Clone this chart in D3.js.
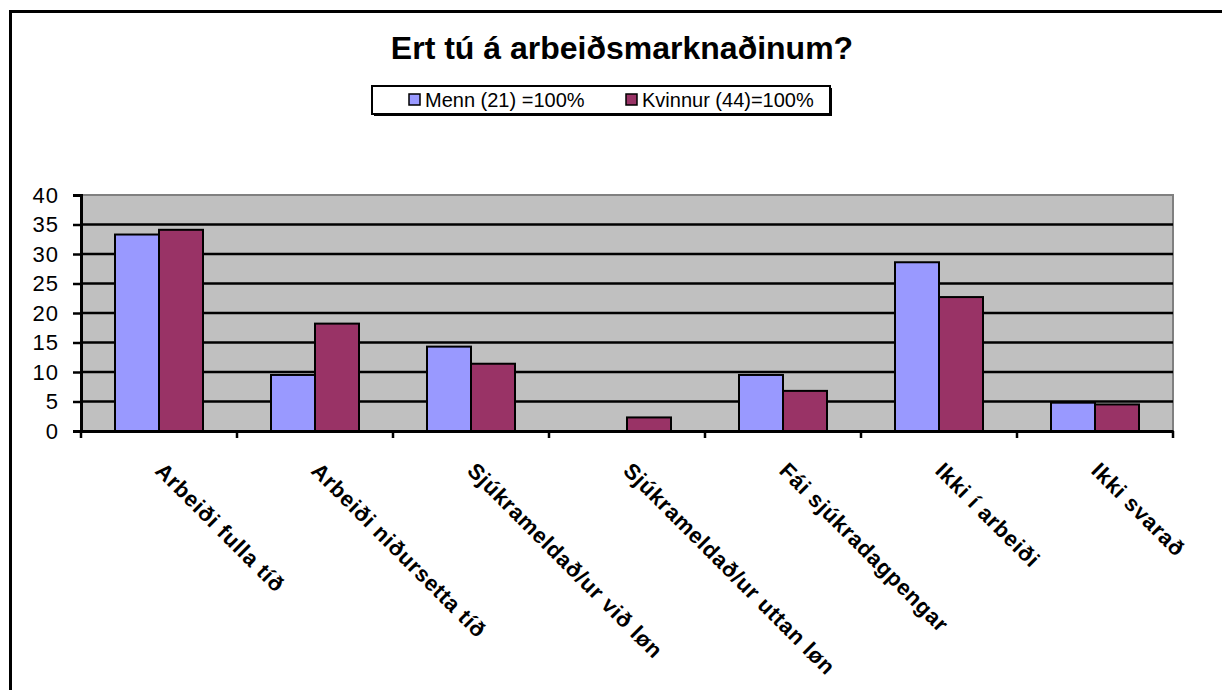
<!DOCTYPE html>
<html>
<head>
<meta charset="utf-8">
<script src="https://cdn.jsdelivr.net/npm/d3@7"></script>
<style>
  body { margin: 0; background: #fff; }
  text { font-family: Arial, "Liberation Sans", sans-serif; }
</style>
</head>
<body>
<svg id="chart" width="1222" height="690"></svg>
<script>
// data (percent of each group)
var categories = ["Arbeiði fulla tíð", "Arbeiði niðursetta tíð", "Sjúkrameldað/ur við løn",
  "Sjúkrameldað/ur uttan løn", "Fái sjúkradagpengar", "Ikki í arbeiði", "Ikki svarað"];
var seriesNames = ["Menn (21) =100%", "Kvinnur (44)=100%"];
var menn = [33.3, 9.5, 14.3, 0, 9.5, 28.6, 4.8];
var kvinnur = [34.1, 18.2, 11.4, 2.3, 6.8, 22.7, 4.5];
var colors = ["#9999FF", "#993366"];
var yTicks = [0, 5, 10, 15, 20, 25, 30, 35, 40];

const svg = d3.select("#chart");

// outer frame (runs off the right / bottom of the picture)
svg.append("rect")
  .attr("x", 10.5).attr("y", 11.5)
  .attr("width", 1300).attr("height", 800)
  .attr("fill", "#fff").attr("stroke", "#000").attr("stroke-width", 3);

// title
svg.append("text")
  .attr("x", 622).attr("y", 59)
  .attr("text-anchor", "middle")
  .attr("font-size", 32).attr("font-weight", "bold")
  .text("Ert tú á arbeiðsmarknaðinum?");

// legend
const legend = svg.append("g");
legend.append("rect")
  .attr("x", 374).attr("y", 88).attr("width", 458).attr("height", 28)
  .attr("fill", "#000");
legend.append("rect")
  .attr("x", 372).attr("y", 86).attr("width", 458).attr("height", 28)
  .attr("fill", "#fff").attr("stroke", "#000").attr("stroke-width", 2);
var legendX = [409, 626];
seriesNames.forEach(function(name, i) {
  legend.append("rect")
    .attr("x", legendX[i]).attr("y", 94).attr("width", 11).attr("height", 11)
    .attr("fill", colors[i]).attr("stroke", "#000").attr("stroke-width", 1.5);
  legend.append("text")
    .attr("x", legendX[i] + 16).attr("y", 107)
    .attr("font-size", 20)
    .text(name);
});

// plot area
const plotL = 81, plotR = 1173, plotT = 195, plotB = 431;

const x = d3.scaleBand().domain(categories).range([plotL, plotR]).padding(0);
const x1 = d3.scaleBand().domain([0, 1]).range([34, 122]).padding(0);
const y = d3.scaleLinear().domain([0, 40]).range([plotB, plotT]);

svg.append("rect")
  .attr("x", plotL).attr("y", plotT)
  .attr("width", plotR - plotL).attr("height", plotB - plotT)
  .attr("fill", "#C0C0C0");

// top / right edges of the plot area
svg.append("path")
  .attr("d", `M${plotL},${plotT}H${plotR}V${plotB}`)
  .attr("fill", "none").attr("stroke", "#808080").attr("stroke-width", 2);

// grid lines
svg.append("g").selectAll("line")
  .data(yTicks.filter(function(d) { return d > 0 && d < 40; }))
  .join("line")
  .attr("x1", plotL).attr("x2", plotR)
  .attr("y1", function(d) { return y(d); }).attr("y2", function(d) { return y(d); })
  .attr("stroke", "#000").attr("stroke-width", 2.5);

// bars
var seriesData = [menn, kvinnur];
seriesData.forEach(function(vals, s) {
  svg.append("g").selectAll("rect")
    .data(vals)
    .join("rect")
    .attr("x", function(d, i) { return x(categories[i]) + x1(s); })
    .attr("y", function(d) { return y(d); })
    .attr("width", x1.bandwidth())
    .attr("height", function(d) { return y(0) - y(d); })
    .attr("fill", colors[s])
    .attr("stroke", function(d) { return d > 0 ? "#000" : "none"; })
    .attr("stroke-width", 2);
});

// y axis
const yAxis = d3.axisLeft(y).tickValues(yTicks).tickSize(8).tickPadding(14);
const gy = svg.append("g").attr("transform", `translate(${plotL},0)`).call(yAxis);
gy.select(".domain").attr("stroke", "#000").attr("stroke-width", 3);
gy.selectAll(".tick line").attr("stroke", "#000").attr("stroke-width", 2.5);
gy.selectAll(".tick text")
  .attr("font-size", 22).attr("letter-spacing", 1)
  .attr("font-family", "Arial, 'Liberation Sans', sans-serif")
  .attr("fill", "#000");

// x axis
const xAxis = d3.axisBottom(x).tickSize(0).tickFormat("");
const gx = svg.append("g").attr("transform", `translate(0,${plotB})`).call(xAxis);
gx.select(".domain").attr("stroke", "#000").attr("stroke-width", 3);

// tick marks at category boundaries
var bounds = categories.map(function(c) { return x(c); }).concat([plotR]);
svg.append("g").selectAll("line")
  .data(bounds)
  .join("line")
  .attr("x1", function(d) { return d; }).attr("x2", function(d) { return d; })
  .attr("y1", plotB).attr("y2", plotB + 7)
  .attr("stroke", "#000").attr("stroke-width", 2.5);

// rotated category labels
svg.append("g").selectAll("text")
  .data(categories)
  .join("text")
  .attr("transform", function(d) {
    return `translate(${x(d) + x.bandwidth() / 2 - 5},472) rotate(45)`;
  })
  .attr("font-size", 22).attr("font-weight", "bold").attr("letter-spacing", 0.7)
  .text(function(d) { return d; });
</script>
</body>
</html>
